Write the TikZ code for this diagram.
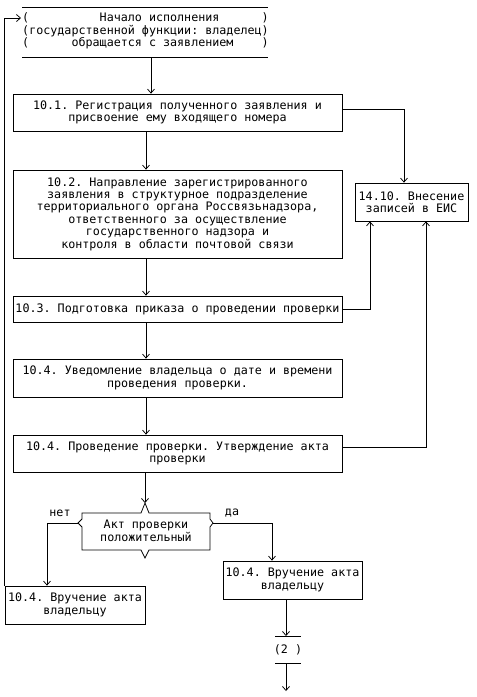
\documentclass[tikz,border=0pt]{standalone}
\usepackage{fontspec}
\setmonofont{DejaVu Sans Mono}
\usetikzlibrary{arrows.meta}
\begin{document}
\begin{tikzpicture}[x=1pt,y=-1pt,
  font=\ttfamily\fontsize{11.7}{12.4}\selectfont,
  line width=0.75pt,
  box/.style={draw, rectangle, align=center, inner sep=0pt},
  arr/.style={-{Straight Barb[length=4pt,width=7pt]}},
  lbl/.style={inner sep=0pt}]
\useasboundingbox (0,0) rectangle (477,697);
% start
\node[lbl, align=left] (start) at (145.5,31)
  {(\hphantom{0000000000}Начало исполнения\hphantom{000000})\\(государственной функции: владелец)\\(\hphantom{000000}обращается с заявлением\hphantom{0000})};
\draw (22,7) -- (268,7);
\draw (22,57) -- (268,57);
\coordinate (startout) at (151,57);
\coordinate (startin) at (21,18);
% main boxes
\node[box, minimum width=329pt, minimum height=37pt] (b101) at (177.5,112.5)
  {10.1. Регистрация полученного заявления и\\присвоение ему входящего номера};
\node[box, minimum width=329pt, minimum height=88pt] (b102) at (177.5,214)
  {10.2. Направление зарегистрированного\\заявления в структурное подразделение\\территориального органа Россвязьнадзора,\\ответственного за осуществление\\государственного надзора и\\контроля в области почтовой связи};
\node[box, minimum width=329pt, minimum height=26pt] (b103) at (177.5,309)
  {10.3. Подготовка приказа о проведении проверки};
\node[box, minimum width=329pt, minimum height=38pt] (b104a) at (177.5,378)
  {10.4. Уведомление владельца о дате и времени\\проведения проверки.};
\node[box, minimum width=329pt, minimum height=37pt] (b104b) at (177.5,453.5)
  {10.4. Проведение проверки. Утверждение акта\\проверки};
\node[box, minimum width=113pt, minimum height=38pt] (eis) at (411.5,202)
  {14.10. Внесение\\записей в ЕИС};
% decision
\draw (82,513) -- (141,513) -- (145,503) -- (149,513) -- (210,513) -- (210,519)
  -- (213,523) -- (210,527) -- (210,550) -- (149,550) -- (145,558) -- (141,550)
  -- (82,550) -- (82,527) -- (78,523) -- (82,519) -- cycle;
\node[lbl, align=center] (dec) at (146,531) {Акт проверки\\положительный};
\coordinate (decT) at (145,503);
\coordinate (decL) at (78,523);
\coordinate (decR) at (213,523);
\node[lbl] (no) at (60,513) {нет};
\node[lbl] (yes) at (232,513) {да};
% result boxes
\node[box, minimum width=140pt, minimum height=38pt] (bno) at (75,605)
  {10.4. Вручение акта\\владельцу};
\node[box, minimum width=139pt, minimum height=38pt] (byes) at (292.5,580)
  {10.4. Вручение акта\\владельцу};
% connector (2)
\node[lbl] (c2) at (288,649.5) {(2 )};
\draw (275,636) -- (301,636);
\draw (275,663) -- (301,663);
\coordinate (c2t) at (286,636);
\coordinate (c2b) at (286,663);
\coordinate (endpt) at (286,691);
% connectors
\draw[arr] (startout) -- (b101.north -| startout);
\draw[arr] (b101.south -| 146,0) -- (b102.north -| 146,0);
\draw[arr] (b102.south -| 146,0) -- (b103.north -| 146,0);
\draw[arr] (b103.south -| 146,0) -- (b104a.north -| 146,0);
\draw[arr] (b104a.south -| 146,0) -- (b104b.north -| 146,0);
\draw[arr] (b104b.south -| 145,0) -- (decT);
\draw[arr] (b101.east |- 0,109) -| (eis.north -| 404,0);
\draw[arr] (b103.east |- 0,309) -| (eis.south -| 370,0);
\draw[arr] (b104b.east |- 0,447) -| (eis.south -| 426,0);
\draw[arr] (decL) -| (bno.north -| 47,0);
\draw[arr] (decR) -| (byes.north -| 272,0);
\draw[arr] (byes.south -| c2t) -- (c2t);
\draw[arr] (c2b) -- (endpt);
\draw[arr] (bno.north west) |- (startin);
\end{tikzpicture}
\end{document}
